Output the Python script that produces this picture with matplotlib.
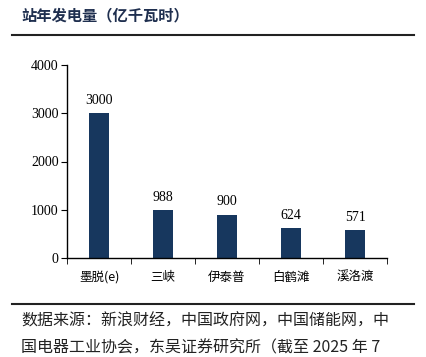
import numpy as np
import matplotlib.pyplot as plt
from matplotlib.lines import Line2D

# data
stations = ['墨脱(e)', '三峡', '伊泰普', '白鹤滩', '溪洛渡']
generation = [3000, 988, 900, 624, 571]
y_ticks = [0, 1000, 2000, 3000, 4000]

title = '站年发电量（亿千瓦时）'
source_lines = ['数据来源：新浪财经，中国政府网，中国储能网，中',
                '国电器工业协会，东吴证券研究所（截至 2025 年 7']

cjk = ['Noto Sans CJK SC', 'DejaVu Sans']
serif = ['Liberation Serif', 'Noto Sans CJK SC']
bar_color = '#17375e'

fig = plt.figure(figsize=(4.26, 3.57), dpi=100)
ax = fig.add_axes([67 / 426, 1 - 258 / 357, 320 / 426, 193 / 357])

x = np.arange(len(stations))
ax.bar(x, generation, width=0.31, color=bar_color)
for xi, v in zip(x, generation):
    ax.text(xi, v + 130, str(v), ha='center', va='bottom',
            fontsize=10, family=serif)

ax.set_xlim(-0.5, len(stations) - 0.5)
ax.set_ylim(0, 4000)
ax.set_yticks(y_ticks)
ax.set_yticklabels([str(t) for t in y_ticks], family=serif, fontsize=10)
ax.set_xticks(x)
ax.set_xticklabels(stations, family=cjk, fontsize=9)
ax.set_xticks(np.arange(-0.5, len(stations)), minor=True)
ax.tick_params(axis='x', which='major', length=0, pad=9)
ax.tick_params(axis='x', which='minor', length=4, direction='out')
ax.tick_params(axis='y', length=4, direction='out', pad=2)
for s in ['top', 'right']:
    ax.spines[s].set_visible(False)
for s in ['left', 'bottom']:
    ax.spines[s].set_linewidth(1.0)

# title and rules
fig.text(21 / 426, 1 - 15 / 357, title, family=cjk, fontsize=11,
         fontweight='bold', color='#1f2f4f', va='center', ha='left')
fig.add_artist(Line2D([12 / 426, 414 / 426], [1 - 35 / 357] * 2,
                      color='#222222', linewidth=1.5))
fig.add_artist(Line2D([12 / 426, 414 / 426], [1 - 304 / 357] * 2,
                      color='#222222', linewidth=1.5))
for i, line in enumerate(source_lines):
    fig.text(21 / 426, 1 - (321 + 27 * i) / 357, line, family=cjk,
             fontsize=11.5, va='center', ha='left', color='#222222')

fig.savefig('out.png', dpi=100)
